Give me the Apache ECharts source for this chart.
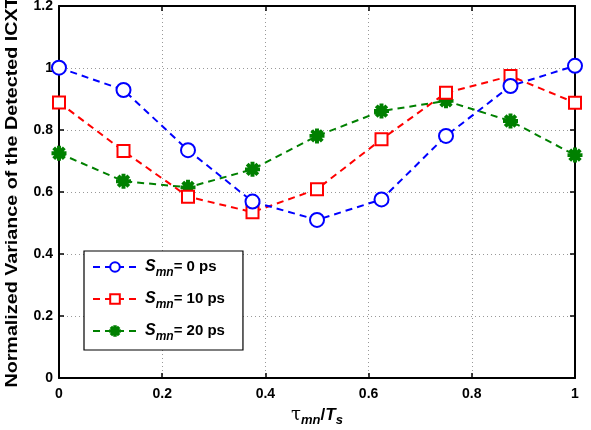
<!DOCTYPE html>
<html><head><meta charset="utf-8">
<script src="https://cdn.jsdelivr.net/npm/echarts@6/dist/echarts.min.js"></script>
<style>html,body{margin:0;padding:0;background:#fff}#c{width:591px;height:430px}</style>
</head><body><div id="c"></div>
<script>
const xValues = [0, 0.125, 0.25, 0.375, 0.5, 0.625, 0.75, 0.875, 1];
const s0 = [1.001, 0.929, 0.735, 0.569, 0.51, 0.576, 0.781, 0.942, 1.007];
const s10 = [0.889, 0.732, 0.585, 0.535, 0.609, 0.770, 0.920, 0.974, 0.888];
const s20 = [0.725, 0.635, 0.615, 0.673, 0.781, 0.861, 0.894, 0.829, 0.719];
const seriesValues = ['0', '10', '20'];
const xTicks = [0, 0.2, 0.4, 0.6, 0.8, 1];
const yTicks = [0, 0.2, 0.4, 0.6, 0.8, 1, 1.2];
const yTitle = 'Normalized Variance of the Detected ICXT';

const FONT = 'Liberation Sans, Arial, sans-serif';
const star = 'path://M-10,-1.5 L10,-1.5 L10,1.5 L-10,1.5 Z M1.5,-10 L1.5,10 L-1.5,10 L-1.5,-10 Z M-6.01,-8.13 L8.13,6.01 L6.01,8.13 L-8.13,-6.01 Z M8.13,-6.01 L-6.01,8.13 L-8.13,6.01 L6.01,-8.13 Z';
const colors = ['#0000ff', '#ff0000', '#008000'];
const symbols = ['emptyCircle', 'emptyRect', star];
const sizes = [14, 12, 13];
const data = [s0, s10, s20];
const names = seriesValues.map(v => 'S' + v);

const chart = echarts.init(document.getElementById('c'), null, {renderer: 'canvas'});
const series = data.map((d, i) => ({
  name: names[i],
  type: 'line',
  data: d.map((y, j) => [xValues[j], y]),
  symbol: symbols[i],
  symbolSize: sizes[i],
  showAllSymbol: true,
  color: colors[i],
  lineStyle: {color: colors[i], width: 2, type: [7, 5]},
  itemStyle: {color: colors[i], borderColor: colors[i], borderWidth: 2},
  emphasis: {disabled: true},
  animation: false,
  z: 3 - i
}));

const axisCommon = {
  min: 0, max: 1, interval: 0.2,
  axisLine: {show: true, onZero: false, lineStyle: {color: '#000', width: 2}},
  axisTick: {show: true, inside: true, length: 5, lineStyle: {color: '#000', width: 1.5}},
};

chart.setOption({
  animation: false,
  grid: {left: 59, right: 16, top: 6, bottom: 52, containLabel: false, outerBoundsMode: 'none'},
  legend: {
    left: 84, top: 251,
    orient: 'vertical',
    padding: [8, 18, 7, 8],
    itemGap: 12,
    itemWidth: 44, itemHeight: 12,
    borderColor: '#000', borderWidth: 1.2,
    backgroundColor: '#fff',
    data: names,
    formatter: function (n) {
      const v = seriesValues[names.indexOf(n)];
      return '{s|S}{sub|mn}{n|= ' + v + ' ps}';
    },
    textStyle: {
      fontFamily: FONT, fontWeight: 'bold', fontSize: 15, color: '#000', padding: [0, 0, 0, 3],
      rich: {
        s: {fontFamily: FONT, fontWeight: 'bold', fontStyle: 'italic', fontSize: 16, color: '#000'},
        sub: {fontFamily: FONT, fontWeight: 'bold', fontStyle: 'italic', fontSize: 12, color: '#000', padding: [12, 0, 0, 0]},
        n: {fontFamily: FONT, fontWeight: 'bold', fontSize: 15, color: '#000'}
      }
    }
  },
  graphic: [{
    type: 'text',
    x: 12, y: 192,
    rotation: Math.PI / 2,
    scaleX: 1.16,
    silent: true,
    style: {
      text: yTitle,
      fontFamily: FONT, fontWeight: 'bold', fontSize: 17, fill: '#000',
      align: 'center', verticalAlign: 'middle'
    }
  }],
  xAxis: [
    Object.assign({}, axisCommon, {
      type: 'value', position: 'bottom',
      axisLabel: {fontFamily: FONT, fontWeight: 'bold', fontSize: 14, color: '#000', margin: 9,
        formatter: v => xTicks.includes(Math.round(v * 10) / 10) ? String(Math.round(v * 10) / 10) : ''},
      splitLine: {show: true, lineStyle: {color: '#999', type: [1, 3], width: 1}},
      name: '{t|τ}{sub|mn}{n|/}{T|T}{sub|s}',
      nameLocation: 'middle', nameGap: 22,
      nameTextStyle: {
        fontFamily: FONT, color: '#000',
        rich: {
          t: {fontFamily: 'DejaVu Serif, serif', fontSize: 18, color: '#000'},
          sub: {fontFamily: FONT, fontWeight: 'bold', fontStyle: 'italic', fontSize: 13, color: '#000', padding: [12, 0, 0, 0]},
          n: {fontFamily: FONT, fontWeight: 'bold', fontSize: 17, color: '#000'},
          T: {fontFamily: FONT, fontWeight: 'bold', fontStyle: 'italic', fontSize: 17, color: '#000'}
        }
      }
    }),
    Object.assign({}, axisCommon, {
      type: 'value', position: 'top',
      axisLabel: {show: false}, splitLine: {show: false}
    })
  ],
  yAxis: [
    Object.assign({}, axisCommon, {
      type: 'value', position: 'left', max: 1.2,
      axisLabel: {fontFamily: FONT, fontWeight: 'bold', fontSize: 14, color: '#000', margin: 6,
        formatter: v => yTicks.includes(Math.round(v * 10) / 10) ? String(Math.round(v * 10) / 10) : ''},
      splitLine: {show: true, lineStyle: {color: '#999', type: [1, 3], width: 1}}
    }),
    Object.assign({}, axisCommon, {
      type: 'value', position: 'right', max: 1.2,
      axisLabel: {show: false}, splitLine: {show: false}
    })
  ],
  series: series
});
</script></body></html>
